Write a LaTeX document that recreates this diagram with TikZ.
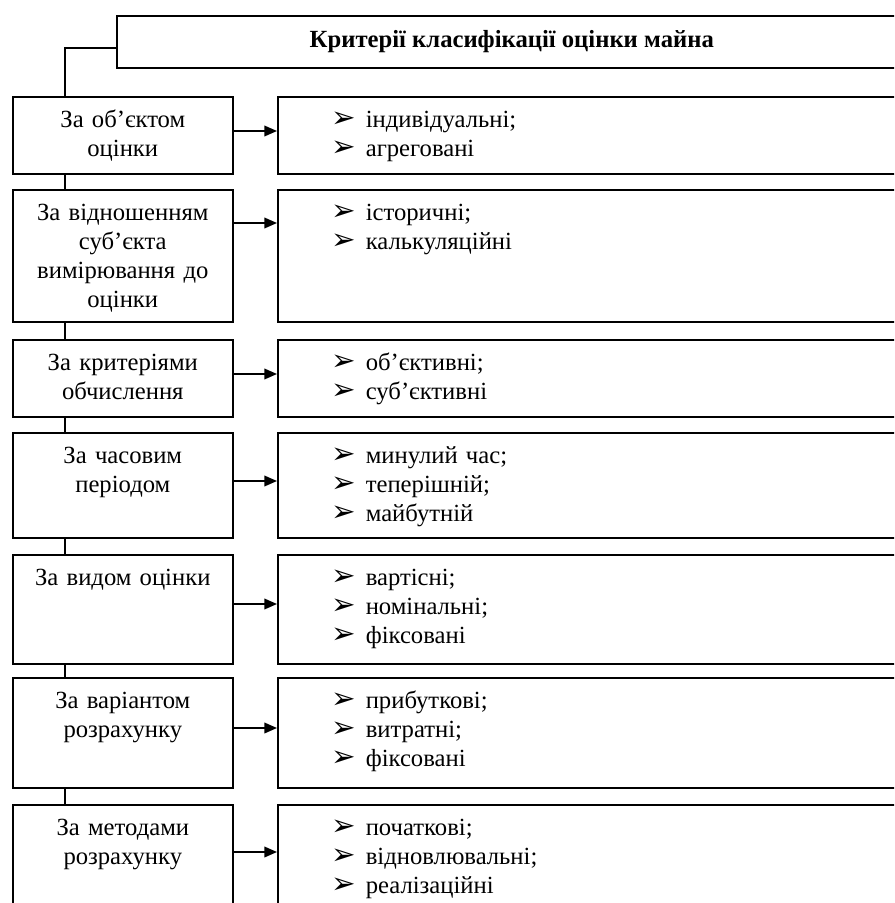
\documentclass[tikz,border=0pt]{standalone}
\usepackage{fontspec}
\setmainfont{Liberation Serif}
\newfontfamily\arrowfont{DejaVu Sans}
\usetikzlibrary{arrows.meta}

% list line with an arrow bullet
\newcommand{\itm}[1]{\hspace*{40pt}\makebox[26pt][l]{\arrowfont\fontsize{22pt}{15pt}\selectfont\smash{➢}}#1}

\tikzset{
  crit/.style={draw, line width=1.2pt, anchor=north west, inner sep=0pt,
    text width=165pt, align=center, text height=23.25pt,
    font=\fontsize{18.5pt}{21.75pt}\selectfont},
  kind/.style={crit, text width=480pt, align=left},
  head/.style={draw, line width=1.2pt, anchor=north west, inner sep=0pt,
    minimum width=592.5pt, minimum height=39pt,
    font=\fontsize{18.5pt}{21.75pt}\selectfont\bfseries},
  link/.style={line width=1.2pt},
  arr/.style={line width=1.2pt, -{Triangle[length=9.5pt,width=8pt]}},
}

\begin{document}
\begin{tikzpicture}[x=0.75pt,y=-0.75pt]
\useasboundingbox (0,0) rectangle (894,903);
\clip (0,0) rectangle (894,903);

\node (title) [head] at (116,15) {Критерії класифікації оцінки майна};

\node (b1) [crit,text depth=34.5pt] at (12,96) {За об’єктом\\оцінки};
\node (k1) [kind,text depth=34.5pt] at (277,96) {\itm{індивідуальні;}\\\itm{агреговані}};

\node (b2) [crit,text depth=75.75pt] at (12,189) {За відношенням\\суб’єкта\\вимірювання до\\оцінки};
\node (k2) [kind,text depth=75.75pt] at (277,189) {\itm{історичні;}\\\itm{калькуляційні}};

\node (b3) [crit,text depth=34.5pt] at (12,339) {За критеріями\\обчислення};
\node (k3) [kind,text depth=34.5pt] at (277,339) {\itm{об’єктивні;}\\\itm{суб’єктивні}};

\node (b4) [crit,text depth=55.5pt] at (12,432) {За часовим\\періодом};
\node (k4) [kind,text depth=55.5pt] at (277,432) {\itm{минулий час;}\\\itm{теперішній;}\\\itm{майбутній}};

\node (b5) [crit,text depth=58.5pt] at (12,554) {За видом оцінки};
\node (k5) [kind,text depth=58.5pt] at (277,554) {\itm{вартісні;}\\\itm{номінальні;}\\\itm{фіксовані}};

\node (b6) [crit,text depth=59.25pt] at (12,677) {За варіантом\\розрахунку};
\node (k6) [kind,text depth=59.25pt] at (277,677) {\itm{прибуткові;}\\\itm{витратні;}\\\itm{фіксовані}};

\node (b7) [crit,text depth=74.25pt] at (12,804) {За методами\\розрахунку};
\node (k7) [kind,text depth=74.25pt] at (277,804) {\itm{початкові;}\\\itm{відновлювальні;}\\\itm{реалізаційні}};

% spine on the left
\draw [link] ([yshift=-4.5pt]title.west) -| ([xshift=39.75pt]b1.north west);
\draw [link] ([xshift=39.75pt]b1.south west) -- ([xshift=39.75pt]b2.north west);
\draw [link] ([xshift=39.75pt]b2.south west) -- ([xshift=39.75pt]b3.north west);
\draw [link] ([xshift=39.75pt]b3.south west) -- ([xshift=39.75pt]b4.north west);
\draw [link] ([xshift=39.75pt]b4.south west) -- ([xshift=39.75pt]b5.north west);
\draw [link] ([xshift=39.75pt]b5.south west) -- ([xshift=39.75pt]b6.north west);
\draw [link] ([xshift=39.75pt]b6.south west) -- ([xshift=39.75pt]b7.north west);

% arrows to the lists
\draw [arr] ([yshift=-26.25pt]b1.north east) -- ([yshift=-26.25pt]k1.north west);
\draw [arr] ([yshift=-25.5pt]b2.north east) -- ([yshift=-25.5pt]k2.north west);
\draw [arr] ([yshift=-26.25pt]b3.north east) -- ([yshift=-26.25pt]k3.north west);
\draw [arr] ([yshift=-36.75pt]b4.north east) -- ([yshift=-36.75pt]k4.north west);
\draw [arr] ([yshift=-37.5pt]b5.north east) -- ([yshift=-37.5pt]k5.north west);
\draw [arr] ([yshift=-38.25pt]b6.north east) -- ([yshift=-38.25pt]k6.north west);
\draw [arr] ([yshift=-36pt]b7.north east) -- ([yshift=-36pt]k7.north west);
\end{tikzpicture}
\end{document}
